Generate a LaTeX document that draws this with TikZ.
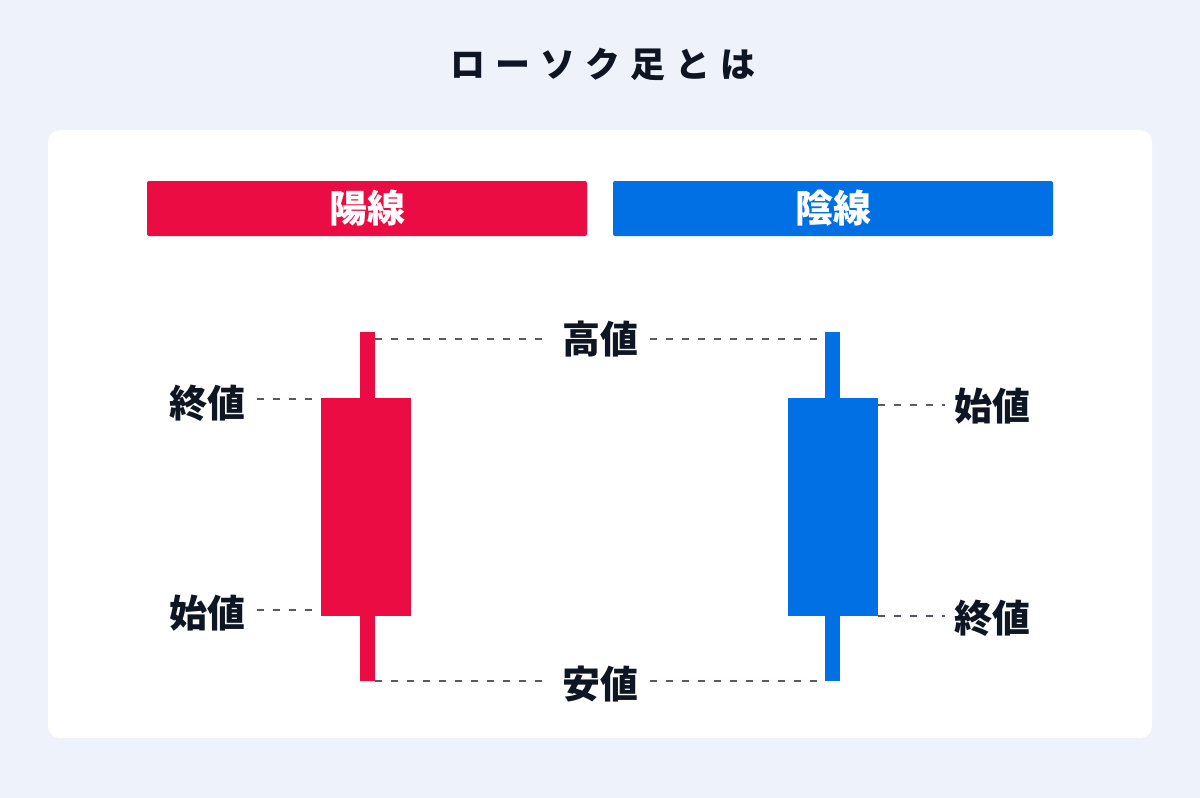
\documentclass[tikz,border=0pt]{standalone}
\usepackage{fontspec}
\newfontfamily\jpfont{Noto Sans CJK JP}
\definecolor{bgcol}{HTML}{EEF2FA}
\definecolor{yocol}{HTML}{EA0C42}
\definecolor{incol}{HTML}{0070E4}
\definecolor{inkcol}{HTML}{0E1523}
\definecolor{dashcol}{HTML}{555B66}
\tikzset{
  label/.style={text=inkcol, inner xsep=12pt, inner ysep=0pt, font=\jpfont\bfseries\fontsize{38}{40}\selectfont},
  dashline/.style={dashcol, line width=2pt, dash pattern=on 7pt off 9pt},
  header/.style={rounded corners=2pt, minimum width=440pt, minimum height=55pt, text=white, font=\jpfont\bfseries\fontsize{38}{40}\selectfont}
}
\begin{document}
\begin{tikzpicture}[x=1pt, y=-1pt]
% 背景
\fill[bgcol] (0,0) rectangle (1200,798);
\useasboundingbox (0,0) rectangle (1200,798);
\fill[white, rounded corners=12pt] (48,130) rectangle (1152,738);

% タイトル
\node[text=inkcol, font=\jpfont\bfseries\fontsize{35}{40}\selectfont\addfontfeature{LetterSpace=29}] (title) at (603,64) {ローソク足とは};

% 見出し
\node[header, fill=yocol] (yosen) at (367,208.5) {陽線};
\node[header, fill=incol] (insen) at (833,208.5) {陰線};

% ローソク
\fill[yocol] (360,332) rectangle (375,681);
\fill[yocol] (321,398) rectangle (411,616);
\fill[incol] (825,332) rectangle (840,681);
\fill[incol] (788,398) rectangle (878,616);

\coordinate (yoHigh) at (375,339);
\coordinate (yoLow) at (375,681);
\coordinate (yoClose) at (321,399);
\coordinate (yoOpen) at (321,610);
\coordinate (inHigh) at (825,339);
\coordinate (inLow) at (825,681);
\coordinate (inOpen) at (878,405);
\coordinate (inClose) at (878,616);

% ラベル
\node[label] (high) at (600,339) {高値};
\node[label] (low) at (600,684) {安値};
\node[label] (yoCloseL) at (207,403) {終値};
\node[label] (yoOpenL) at (207,613) {始値};
\node[label, inner xsep=9pt] (inOpenL) at (992,406) {始値};
\node[label, inner xsep=9pt] (inCloseL) at (992,618) {終値};

% 点線
\draw[dashline] (yoHigh) -- (yoHigh -| high.west);
\draw[dashline] (high.east |- inHigh) -- (inHigh);
\draw[dashline] (yoLow) -- (yoLow -| low.west);
\draw[dashline] (low.east |- inLow) -- (inLow);
\draw[dashline] (yoClose -| yoCloseL.east) -- (yoClose);
\draw[dashline] (yoOpen -| yoOpenL.east) -- (yoOpen);
\draw[dashline] (inOpen) -- (inOpen -| inOpenL.west);
\draw[dashline] (inClose) -- (inClose -| inCloseL.west);
\end{tikzpicture}
\end{document}
